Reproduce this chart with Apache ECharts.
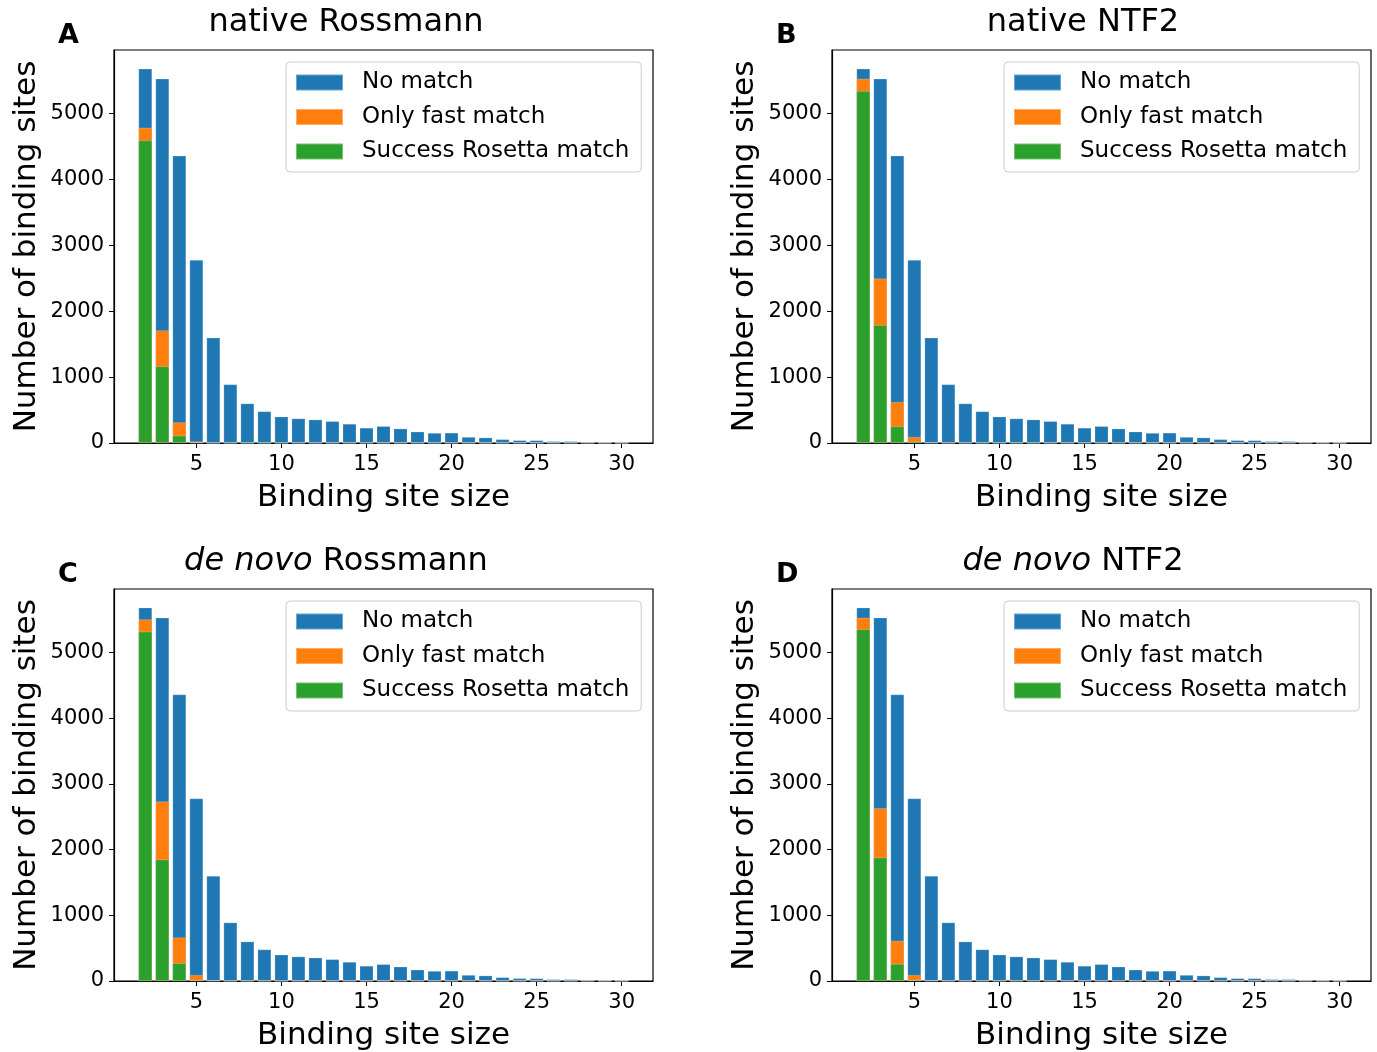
<!DOCTYPE html>
<html>
<head>
<meta charset="utf-8">
<script src="https://cdn.jsdelivr.net/npm/echarts@6/dist/echarts.min.js"></script>
<style>
  html, body { margin: 0; padding: 0; background: #fff; }
  #chart { width: 1377px; height: 1052px; }
</style>
</head>
<body>
<div id="chart"></div>
<script>
// binding site sizes (x positions of the bars)
const sizes = [2, 3, 4, 5, 6, 7, 8, 9, 10, 11, 12, 13, 14, 15, 16, 17, 18, 19, 20, 21, 22, 23, 24, 25, 26, 27, 28, 29, 30]
// total number of binding sites per size (top of the stacked bar)
const totals = [5684, 5532, 4362, 2778, 1600, 890, 600, 480, 400, 372, 355, 330, 290, 230, 255, 218, 172, 152, 155, 91, 82, 56, 41, 40, 26, 26, 15, 6, 2]

// success rosetta match / only fast match, per panel (sizes 2..6, rest are 0)
const greenA = [4594, 1164, 111, 5, 0]
const orangeA = [193, 547, 202, 19, 0]
const greenB = [5344, 1788, 252, 24, 3]
const orangeB = [188, 709, 371, 67, 0]
const greenC = [5318, 1848, 268, 15, 0]
const orangeC = [188, 885, 394, 76, 10]
const greenD = [5354, 1879, 258, 15, 0]
const orangeD = [176, 753, 354, 76, 10]

const yTicks = [0, 1000, 2000, 3000, 4000, 5000]
const xTicks = [5, 10, 15, 20, 25, 30]
const legendNames = ['No match', 'Only fast match', 'Success Rosetta match']

const colors = {green: '#2ca02c', orange: '#ff7f0e', blue: '#1f77b4'}
const font = 'DejaVu Sans'

const panels = [
  {letter: 'A', title: 'native Rossmann', left: 114, top: 50, titleX: 346, green: greenA, orange: orangeA},
  {letter: 'B', title: 'native NTF2', left: 832, top: 50, titleX: 1083, green: greenB, orange: orangeB},
  {letter: 'C', title: '{i|de novo} Rossmann', left: 114, top: 589, titleX: 336, green: greenC, orange: orangeC},
  {letter: 'D', title: '{i|de novo} NTF2', left: 832, top: 589, titleX: 1073, green: greenD, orange: orangeD}
]

const gridW = 539
const gridH = 393
const xMin = 0.16
const xMax = 31.84
const barW = 0.8 * gridW / (xMax - xMin)

const pad = (arr) => sizes.map((s, i) => (i < arr.length ? arr[i] : 0))

const grid = []
const xAxis = []
const yAxis = []
const series = []
const legend = []
const title = []

panels.forEach((p, k) => {
  grid.push({
    left: p.left, top: p.top, width: gridW, height: gridH,
    show: true, borderColor: '#000', borderWidth: 1.2, backgroundColor: '#fff'
  })
  xAxis.push({
    gridIndex: k, type: 'value', min: xMin, max: xMax,
    name: 'Binding site size', nameLocation: 'middle', nameGap: 39,
    nameTextStyle: {fontFamily: font, fontSize: 31, color: '#000'},
    axisLine: {show: true, lineStyle: {color: '#000', width: 1.2}},
    axisTick: {show: true, length: 5, inside: false, customValues: xTicks, lineStyle: {color: '#000'}},
    axisLabel: {customValues: xTicks, fontFamily: font, fontSize: 21, color: '#000', margin: 11},
    splitLine: {show: false}
  })
  yAxis.push({
    gridIndex: k, type: 'value', min: 0, max: 5968,
    name: 'Number of binding sites', nameLocation: 'middle', nameGap: 72,
    nameTextStyle: {fontFamily: font, fontSize: 31, color: '#000'},
    axisLine: {show: true, lineStyle: {color: '#000', width: 1.2}},
    axisTick: {show: true, length: 5, inside: false, customValues: yTicks, lineStyle: {color: '#000'}},
    axisLabel: {
      customValues: yTicks, fontFamily: font, fontSize: 21, color: '#000', margin: 10,
      formatter: (v) => String(v)
    },
    splitLine: {show: false}
  })

  const g = pad(p.green)
  const o = pad(p.orange)
  // bars are drawn on top of each other: total (blue), green+orange (orange), green
  const orangeTop = g.map((v, i) => v + o[i])
  const mk = (name, vals, color) => ({
    name: name, type: 'bar',
    xAxisIndex: k, yAxisIndex: k,
    barWidth: barW, barGap: '-100%',
    itemStyle: {color: color, borderColor: 'rgba(255,255,255,0.35)', borderWidth: 0.6},
    data: sizes.map((s, i) => [s, vals[i]])
  })
  series.push(mk('No match', totals, colors.blue))
  series.push(mk('Only fast match', orangeTop, colors.orange))
  series.push(mk('Success Rosetta match', g, colors.green))

  legend.push({
    data: legendNames, orient: 'vertical',
    left: p.left + 172, top: p.top + 12,
    padding: [7, 12, 7, 9],
    itemWidth: 47, itemHeight: 16, itemGap: 7.5, icon: 'rect',
    borderColor: '#cccccc', borderWidth: 1, borderRadius: 4,
    backgroundColor: 'rgba(255,255,255,0.8)',
    selectedMode: false,
    textStyle: {fontFamily: font, fontSize: 23, color: '#000', lineHeight: 27, padding: [0, 0, 0, 14]}
  })

  title.push({
    text: p.title, left: p.titleX, textAlign: 'center', top: p.top - 43, padding: 0,
    textStyle: {
      fontFamily: font, fontSize: 32, fontWeight: 'normal', color: '#000',
      rich: {i: {fontFamily: font, fontSize: 32, fontStyle: 'italic', color: '#000'}}
    }
  })
  title.push({
    text: p.letter, left: p.left - 56, top: p.top - 28, padding: 0,
    textStyle: {fontFamily: font, fontSize: 27, fontWeight: 'bold', color: '#000'}
  })
})

const myChart = echarts.init(document.getElementById('chart'))
myChart.setOption({
  animation: false,
  backgroundColor: '#fff',
  title: title,
  legend: legend,
  grid: grid,
  xAxis: xAxis,
  yAxis: yAxis,
  series: series
})
</script>
</body>
</html>
